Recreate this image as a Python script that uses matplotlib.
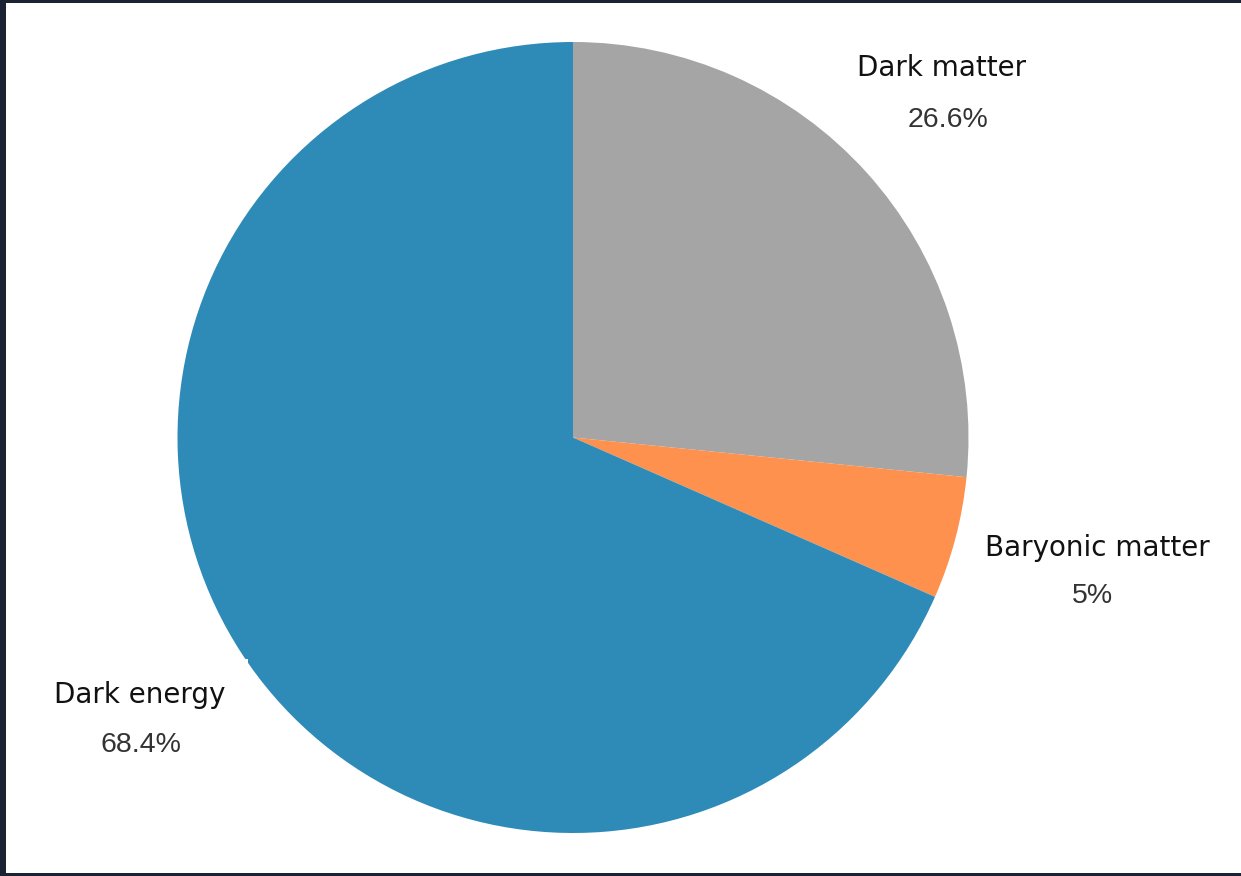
import matplotlib
matplotlib.use("Agg")
import matplotlib.pyplot as plt
from matplotlib.patches import Rectangle

# ----------------------------
# Data
# ----------------------------
labels = ["Dark matter", "Baryonic matter", "Dark energy"]
values = [26.6, 5.0, 68.4]
pct_text = ["26.6%", "5%", "68.4%"]
colors = ["#a5a5a5", "#fd914d", "#2e8bb8"]

# label positions in pixels (x, y from top) for name and percentage
W, H = 1241, 876
name_pos = [(942, 68), (1097, 548), (140, 695)]
pct_pos = [(948, 120), (1092, 596), (141, 745)]

# ----------------------------
# Figure
# ----------------------------
fig = plt.figure(figsize=(W / 100, H / 100), dpi=100)
fig.patch.set_facecolor("#1b2233")

# white slide panel
fig.patches.append(Rectangle((6 / W, 3 / H), (W - 6) / W, (H - 6) / H,
                             transform=fig.transFigure, facecolor="white",
                             edgecolor="none", zorder=-5))

ax = fig.add_axes([177 / W, (H - 833) / H, 792 / W, 791 / H])
ax.set_zorder(1)
ax.pie(values, colors=colors, startangle=90, counterclock=False,
       wedgeprops={"linewidth": 0})
ax.set_xlim(-1, 1)
ax.set_ylim(-1, 1)
ax.set_aspect("equal")
ax.axis("off")

# small white box behind the Dark energy label
fig.patches.append(Rectangle((30 / W, (H - 760) / H), 218 / W, 101 / H,
                             transform=fig.transFigure, facecolor="white",
                             edgecolor="none", zorder=5))

for name, pct, (nx, ny), (px, py) in zip(labels, pct_text, name_pos, pct_pos):
    fig.text(nx / W, 1 - ny / H, name, ha="center", va="center",
             fontsize=20, family="DejaVu Sans", color="#111111", zorder=6)
    fig.text(px / W, 1 - py / H, pct, ha="center", va="center",
             fontsize=20.5, family="Liberation Sans", color="#333333", zorder=6)

fig.savefig("out.png", dpi=100, facecolor=fig.get_facecolor())
